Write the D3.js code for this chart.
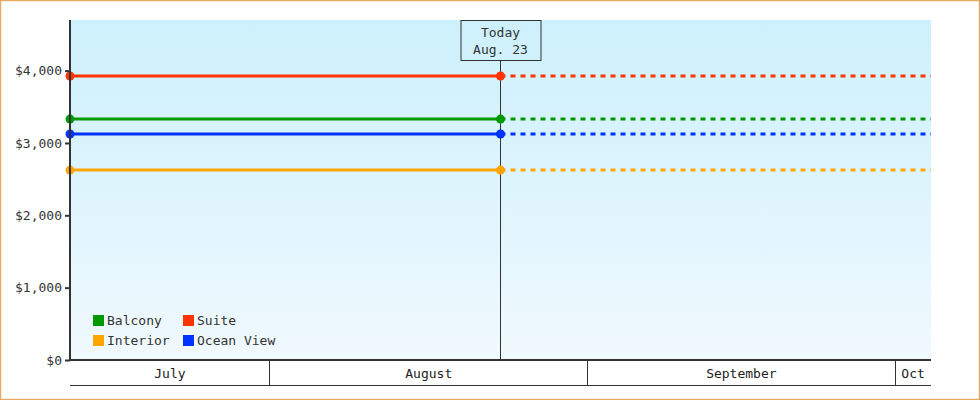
<!DOCTYPE html>
<html>
<head>
<meta charset="utf-8">
<script src="https://cdn.jsdelivr.net/npm/d3@7"></script>
<style>
  body { margin: 0; background: #fff; }
  svg { display: block; font-family: "DejaVu Sans Mono", monospace; }
</style>
</head>
<body>
<svg id="chart" width="980" height="400"></svg>
<script>
// data
const seriesNames = ["Balcony", "Suite", "Interior", "Ocean View"];
const seriesColors = ["#009900", "#ff3300", "#ffa500", "#0033ff"];
const seriesPrices = [3330, 3925, 2625, 3125];
const yTicks = [0, 1000, 2000, 3000, 4000];
const startDate = new Date(2023, 6, 12, 12);
const todayDate = new Date(2023, 7, 23, 12);
const endDate = new Date(2023, 9, 4, 12);
const todayLabel = ["Today", "Aug. 23"];
const monthNames = ["January", "February", "March", "April", "May", "June", "July",
  "August", "September", "Oct", "November", "December"];

const width = 980, height = 400;
const margin = { top: 20, right: 49, bottom: 40, left: 70 };

const svg = d3.select("#chart");

// orange frame
svg.append("rect")
  .attr("x", 0.5).attr("y", 0.5)
  .attr("width", width - 1).attr("height", height - 1)
  .attr("fill", "#fff")
  .attr("stroke", "#e9aa66")
  .attr("stroke-width", 1.5);

const x = d3.scaleTime().domain([startDate, endDate]).range([margin.left, width - margin.right]);
const y = d3.scaleLinear().domain([0, 4700]).range([height - margin.bottom, margin.top]);

// background gradient
const defs = svg.append("defs");
const grad = defs.append("linearGradient").attr("id", "bg").attr("x1", 0).attr("y1", 0).attr("x2", 0).attr("y2", 1);
grad.append("stop").attr("offset", "0%").attr("stop-color", "#ccf0fc");
grad.append("stop").attr("offset", "100%").attr("stop-color", "#f0f9fe");

svg.append("rect")
  .attr("x", x.range()[0]).attr("y", y.range()[1])
  .attr("width", x.range()[1] - x.range()[0])
  .attr("height", y.range()[0] - y.range()[1])
  .attr("fill", "url(#bg)");

// today line
svg.append("line")
  .attr("x1", x(todayDate)).attr("x2", x(todayDate))
  .attr("y1", 60).attr("y2", y(0))
  .attr("stroke", "#333").attr("stroke-width", 1);

// series lines
const g = svg.append("g");
seriesNames.forEach((name, i) => {
  const v = seriesPrices[i];
  g.append("line")
    .attr("x1", x(todayDate)).attr("x2", x(endDate))
    .attr("y1", y(v)).attr("y2", y(v))
    .attr("stroke", seriesColors[i]).attr("stroke-width", 3)
    .attr("stroke-dasharray", "5,5");
  g.append("line")
    .attr("x1", x(startDate)).attr("x2", x(todayDate))
    .attr("y1", y(v)).attr("y2", y(v))
    .attr("stroke", seriesColors[i]).attr("stroke-width", 3);
  g.selectAll(null)
    .data([startDate, todayDate])
    .join("path")
    .attr("d", d3.symbol(d3.symbolCircle, 64))
    .attr("transform", d => `translate(${x(d)},${y(v)})`)
    .attr("fill", seriesColors[i]);
});

// y axis
const yAxis = svg.append("g")
  .attr("transform", `translate(${margin.left}, 0)`)
  .call(d3.axisLeft(y).tickValues(yTicks).tickSize(5).tickPadding(3)
    .tickFormat(d => "$" + d3.format(",")(d)));
yAxis.select(".domain").remove();
yAxis.selectAll(".tick line").attr("stroke", "#333").attr("stroke-width", 2);
yAxis.selectAll(".tick text").attr("font-size", 13).attr("fill", "#333")
  .attr("font-family", "DejaVu Sans Mono, monospace");
svg.append("line")
  .attr("x1", margin.left).attr("x2", margin.left)
  .attr("y1", margin.top).attr("y2", y(0) + 1)
  .attr("stroke", "#333").attr("stroke-width", 2);

// x month band
const bandTop = y(0), bandBottom = 385;
svg.append("line")
  .attr("x1", margin.left).attr("x2", x.range()[1])
  .attr("y1", bandTop).attr("y2", bandTop)
  .attr("stroke", "#333").attr("stroke-width", 2);
svg.append("line")
  .attr("x1", margin.left).attr("x2", x.range()[1])
  .attr("y1", bandBottom + 0.5).attr("y2", bandBottom + 0.5)
  .attr("stroke", "#333").attr("stroke-width", 1);
const bounds = [startDate, ...d3.timeMonth.range(startDate, endDate), endDate];
const months = d3.pairs(bounds);
svg.selectAll(".msep")
  .data(bounds.slice(1, -1))
  .join("line")
  .attr("x1", d => Math.floor(x(d)) + 0.5).attr("x2", d => Math.floor(x(d)) + 0.5)
  .attr("y1", bandTop).attr("y2", bandBottom)
  .attr("stroke", "#333").attr("stroke-width", 1);
svg.selectAll(".mlabel")
  .data(months)
  .join("text")
  .attr("x", d => (x(d[0]) + x(d[1])) / 2)
  .attr("y", 378)
  .attr("text-anchor", "middle")
  .attr("font-size", 13)
  .attr("fill", "#222")
  .text(d => monthNames[d[0].getMonth()]);

// today box
const tx = x(todayDate);
svg.append("rect")
  .attr("x", tx - 40 + 0.5).attr("y", 20.5)
  .attr("width", 80).attr("height", 40)
  .attr("fill", "none").attr("stroke", "#333").attr("stroke-width", 1);
svg.selectAll(".tlabel")
  .data(todayLabel)
  .join("text")
  .attr("x", tx).attr("y", (d, i) => 37 + i * 17)
  .attr("text-anchor", "middle")
  .attr("font-size", 13).attr("fill", "#333")
  .text(d => d);

// legend
const legend = svg.append("g").attr("transform", "translate(93, 315)");
const legendItems = legend.selectAll("g")
  .data(seriesNames)
  .join("g")
  .attr("transform", (d, i) => `translate(${(i % 2) * 90}, ${Math.floor(i / 2) * 20})`);
legendItems.append("rect")
  .attr("width", 11).attr("height", 11)
  .attr("fill", (d, i) => seriesColors[i]);
legendItems.append("text")
  .attr("x", 14).attr("y", 10)
  .attr("font-size", 13).attr("fill", "#333")
  .text(d => d);
</script>
</body>
</html>
